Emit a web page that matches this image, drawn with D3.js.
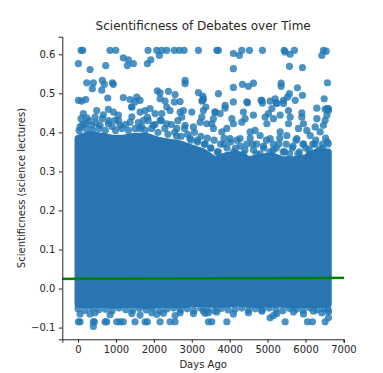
<!DOCTYPE html>
<html>
<head>
<meta charset="utf-8">
<script src="https://cdn.jsdelivr.net/npm/d3@7"></script>
<style>
  body { margin: 0; background: #fff; }
  text { font-family: "DejaVu Sans", sans-serif; fill: #262626; }
</style>
</head>
<body>
<div id="chart"></div>
<script>
// tick labels
const xTicks = [0, 1000, 2000, 3000, 4000, 5000, 6000, 7000];
const yTicks = [-0.1, 0.0, 0.1, 0.2, 0.3, 0.4, 0.5, 0.6];

// the solid mass of overlapping points, read as an envelope (point centres)
const bandDays = [0, 300, 600, 900, 1200, 1500, 1800, 2100, 2400, 2700, 3000, 3300,
                  3600, 3900, 4200, 4500, 4800, 5100, 5400, 5700, 6000, 6300, 6600];
const bandLow  = [-0.040, -0.042, -0.040, -0.043, -0.041, -0.040, -0.044, -0.041, -0.040, -0.042, -0.039, -0.038,
                  -0.041, -0.040, -0.037, -0.040, -0.041, -0.039, -0.040, -0.042, -0.040, -0.041, -0.040];
const bandHigh = [0.385, 0.395, 0.39, 0.385, 0.385, 0.39, 0.39, 0.38, 0.375, 0.37, 0.36, 0.35,
                  0.33, 0.34, 0.345, 0.33, 0.335, 0.34, 0.33, 0.33, 0.335, 0.35, 0.35];

// points sitting on the top edge of the mass
const edgeDays = [30, 120, 210, 290, 380, 470, 550, 640, 720, 810, 900, 990, 1070, 1160, 1250, 1330, 1420, 1510, 1590, 1680,
                  1770, 1850, 1940, 2030, 2110, 2200, 2290, 2370, 2460, 2550, 2630, 2720, 2810, 2890, 2980, 3070, 3150, 3240, 3330, 3410,
                  3500, 3590, 3670, 3760, 3850, 3930, 4020, 4110, 4190, 4280, 4370, 4450, 4540, 4630, 4710, 4800, 4890, 4970, 5060, 5150,
                  5230, 5320, 5410, 5490, 5580, 5670, 5750, 5840, 5930, 6010, 6100, 6190, 6270, 6360, 6450, 6530, 6600];
const edgeScores = [0.405, 0.42, 0.41, 0.43, 0.405, 0.425, 0.41, 0.435, 0.405, 0.43, 0.415, 0.405, 0.43, 0.41, 0.42, 0.405, 0.44, 0.41, 0.425, 0.415,
                    0.405, 0.43, 0.41, 0.42, 0.4, 0.43, 0.41, 0.395, 0.42, 0.4, 0.43, 0.39, 0.41, 0.395, 0.38, 0.4, 0.375, 0.39, 0.37, 0.385,
                    0.36, 0.38, 0.35, 0.37, 0.385, 0.36, 0.375, 0.35, 0.38, 0.365, 0.345, 0.37, 0.385, 0.355, 0.37, 0.345, 0.365, 0.38, 0.35, 0.37,
                    0.36, 0.385, 0.35, 0.37, 0.345, 0.365, 0.38, 0.35, 0.37, 0.36, 0.345, 0.37, 0.38, 0.355, 0.37, 0.385, 0.37];

// points sitting on the bottom edge of the mass
const floorDays = [0, 180, 360, 540, 720, 900, 1080, 1260, 1440, 1620, 1800, 1980, 2160, 2340, 2520, 2700, 2880, 3060, 3240,
                   3420, 3600, 3780, 3960, 4140, 4320, 4500, 4680, 4860, 5040, 5220, 5400, 5580, 5760, 5940, 6120, 6300, 6480, 6600];
const floorScores = [-0.052, -0.056, -0.05, -0.055, -0.053, -0.057, -0.05, -0.054, -0.056, -0.051, -0.055, -0.05, -0.057, -0.053, -0.05, -0.055, -0.052, -0.056, -0.05,
                     -0.054, -0.057, -0.051, -0.055, -0.053, -0.05, -0.056, -0.052, -0.055, -0.05, -0.054, -0.057, -0.051, -0.053, -0.056, -0.05, -0.055, -0.052, -0.054];

// single points that stand out of the mass
const outlierDays = [
  80, 124, 844, 995, 1847, 2077, 2209, 2341, 2541, 2673, 2797, 3175, 3660, 3702, 4098, 4257, 4320, 4521, 4864, 5436, 5463, 5595, 5708, 6473, 6545, 6431,
  10, 317, 730, 1195, 1327, 1459, 1300, 1829, 1919, 2146,
  230, 404, 377, 641, 625, 694, 905, 932, 2824, 2824,
  10, 95, 203, 784, 1195, 1372, 1549, 1636, 1504, 1417, 2093, 2164, 2383, 2164, 2296, 2560, 2692, 2541, 3175, 3291, 3291, 3370,
  4098, 5576, 5919, 4336, 4494, 4626, 4098, 5357, 5357, 5576, 5787, 5919, 6579, 3702, 3307, 3264, 4098, 4468, 4829, 4864, 5067, 5225, 5418, 6492, 6518, 6605, 3615, 3879, 5903,
  140, 79, 230, 493, 449, 668, 800, 932, 1064, 976, 1417, 1636, 1768, 1900, 2032, 1829, 1723, 2209, 2341, 2428, 2164, 2692, 2779, 3001, 2737, 3307, 3264,
  53, 185, 362, 581, 800, 1108, 1372, 1636, 1987, 2341, 2605, 2824, 3043, 3220,
  3615, 3747, 3879, 3571, 3528, 4056, 4098, 3924, 4362, 4407, 4320, 4626, 4671, 4935, 5022, 5112, 5154, 4980, 5331, 5550, 5595, 5550, 5903, 5946, 5814, 6035, 6299, 6254, 6473, 6518, 6605, 6563,
  4452, 4848, 5199, 5244, 5418, 5524, 5727, 6299, 6563,
  3396, 3571, 3792, 4011, 4275, 4539, 4803, 5067, 5331, 5508, 5772, 6123, 6386,
  3500, 3700, 3850, 4150, 4400, 4600, 4700, 4900, 5150, 5300, 5450, 5650, 5800, 5950, 6100, 6250, 6450, 6580, 3350, 3150, 2950, 2600,
  10, 53, 404, 430, 712, 757, 1021, 1108, 1195, 1504, 1768, 1829, 2164, 2428, 2560, 404,
  53, 317, 449, 844, 1417, 1636, 1945, 2077, 2251, 2560, 2692, 3043, 3352, 3439,
  3528, 3924, 5463, 6051, 6183, 6518, 5067, 5154, 6605,
  3307, 3439, 3660, 4098, 4494, 4848, 5244, 5682, 5946, 6209, 6431, 6605
];
const outlierScores = [
  0.61, 0.61, 0.61, 0.61, 0.61, 0.61, 0.61, 0.61, 0.61, 0.61, 0.61, 0.61, 0.61, 0.61, 0.602, 0.597, 0.61, 0.61, 0.61, 0.61, 0.606, 0.60, 0.61, 0.61, 0.608, 0.597,
  0.576, 0.561, 0.571, 0.591, 0.586, 0.576, 0.571, 0.576, 0.586, 0.597,
  0.527, 0.527, 0.512, 0.533, 0.508, 0.523, 0.527, 0.523, 0.533, 0.525,
  0.482, 0.480, 0.484, 0.488, 0.489, 0.484, 0.49, 0.482, 0.478, 0.465, 0.506, 0.501, 0.505, 0.486, 0.48, 0.497, 0.479, 0.478, 0.502, 0.493, 0.482, 0.465,
  0.563, 0.569, 0.566, 0.523, 0.518, 0.526, 0.515, 0.526, 0.518, 0.499, 0.514, 0.495, 0.527, 0.499, 0.486, 0.48, 0.478, 0.476, 0.482, 0.475, 0.48, 0.476, 0.482, 0.486, 0.459, 0.456, 0.452, 0.469, 0.45,
  0.448, 0.435, 0.437, 0.456, 0.439, 0.445, 0.459, 0.452, 0.444, 0.431, 0.465, 0.452, 0.456, 0.461, 0.448, 0.439, 0.431, 0.448, 0.465, 0.456, 0.431, 0.452, 0.456, 0.452, 0.439, 0.456, 0.439,
  0.414, 0.422, 0.418, 0.418, 0.422, 0.418, 0.426, 0.41, 0.418, 0.422, 0.41, 0.418, 0.414, 0.426,
  0.452, 0.448, 0.462, 0.435, 0.422, 0.435, 0.422, 0.41, 0.452, 0.435, 0.426, 0.444, 0.405, 0.439, 0.448, 0.461, 0.435, 0.422, 0.444, 0.456, 0.439, 0.422, 0.439, 0.422, 0.41, 0.405, 0.435, 0.414, 0.418, 0.431, 0.461, 0.444,
  0.478, 0.482, 0.486, 0.474, 0.474, 0.49, 0.482, 0.462, 0.461,
  0.422, 0.41, 0.401, 0.384, 0.384, 0.401, 0.392, 0.384, 0.401, 0.392, 0.384, 0.392, 0.401,
  0.36, 0.35, 0.37, 0.36, 0.355, 0.37, 0.345, 0.36, 0.355, 0.37, 0.35, 0.36, 0.345, 0.37, 0.355, 0.37, 0.36, 0.375, 0.37, 0.38, 0.385, 0.39,
  -0.085, -0.085, -0.085, -0.085, -0.085, -0.085, -0.085, -0.085, -0.085, -0.085, -0.085, -0.085, -0.085, -0.085, -0.085, -0.097,
  -0.065, -0.065, -0.062, -0.067, -0.064, -0.068, -0.062, -0.066, -0.063, -0.069, -0.062, -0.064, -0.063, -0.085,
  -0.085, -0.085, -0.085, -0.085, -0.085, -0.085, -0.075, -0.069, -0.075,
  -0.058, -0.062, -0.06, -0.065, -0.062, -0.058, -0.064, -0.06, -0.065, -0.058, -0.062, -0.06
];

// regression fit and its confidence band
const fitDays = [-415, 7015];
const fitScores = [0.0249, 0.0274];
const fitLow = [0.0209, 0.0234];
const fitHigh = [0.0289, 0.0314];

const W = 383, H = 373;
const margin = {left: 62.3, right: 39, top: 36.7, bottom: 33.7};
const width = W - margin.left - margin.right;
const height = H - margin.top - margin.bottom;

const x = d3.scaleLinear().domain([-415, 7015]).range([0, width]);
const y = d3.scaleLinear().domain([-0.13, 0.645]).range([height, 0]);

const svg = d3.select('#chart').append('svg')
    .attr('width', W)
    .attr('height', H);

const g = svg.append('g')
    .attr('transform', 'translate(' + margin.left + ',' + margin.top + ')');

const blue = '#1f77b4';

// dense mass of points
const band = bandDays.map((d, i) => ({day: d, lo: bandLow[i], hi: bandHigh[i]}));
g.append('path')
    .datum(band)
    .attr('d', d3.area().x(d => x(d.day)).y0(d => y(d.lo)).y1(d => y(d.hi)))
    .attr('fill', '#2a76b3')
    .attr('stroke', '#2a76b3')
    .attr('stroke-width', 7)
    .attr('stroke-linejoin', 'round');

// loose points
const pts = [];
edgeDays.forEach((d, i) => pts.push({day: d, score: edgeScores[i]}));
floorDays.forEach((d, i) => pts.push({day: d, score: floorScores[i]}));
outlierDays.forEach((d, i) => pts.push({day: d, score: outlierScores[i]}));

g.selectAll('.dot')
    .data(pts)
  .enter().append('circle')
    .attr('class', 'dot')
    .attr('cx', d => x(d.day))
    .attr('cy', d => y(d.score))
    .attr('r', 3.6)
    .attr('fill', blue)
    .attr('fill-opacity', 0.8);

// fit line + ci
const fit = fitDays.map((d, i) => ({day: d, v: fitScores[i], lo: fitLow[i], hi: fitHigh[i]}));
g.append('path')
    .datum(fit)
    .attr('d', d3.area().x(d => x(d.day)).y0(d => y(d.lo)).y1(d => y(d.hi)))
    .attr('fill', 'green')
    .attr('fill-opacity', 0.25);
g.append('path')
    .datum(fit)
    .attr('d', d3.line().x(d => x(d.day)).y(d => y(d.v)))
    .attr('fill', 'none')
    .attr('stroke', 'green')
    .attr('stroke-width', 2.2);

// axes
const xAxis = g.append('g')
    .attr('transform', 'translate(0,' + height + ')')
    .call(d3.axisBottom(x).tickValues(xTicks).tickFormat(d3.format('d')).tickSizeOuter(0).tickSize(3.5).tickPadding(3.5));
const yAxis = g.append('g')
    .call(d3.axisLeft(y).tickValues(yTicks).tickFormat(d => d3.format('.1f')(d).replace('-', '\u2212')).tickSizeOuter(0).tickSize(3.5).tickPadding(3.5));

[xAxis, yAxis].forEach(a => {
  a.selectAll('path, line').attr('stroke', '#262626').attr('stroke-width', 1);
  a.selectAll('text').attr('font-size', '10px').attr('font-family', '"DejaVu Sans", sans-serif').attr('fill', '#262626');
});

svg.append('text')
    .attr('x', margin.left + width / 2)
    .attr('y', 30)
    .attr('text-anchor', 'middle')
    .attr('font-size', '12px')
    .text('Scientificness of Debates over Time');

svg.append('text')
    .attr('x', margin.left + width / 2)
    .attr('y', 368)
    .attr('text-anchor', 'middle')
    .attr('font-size', '10px')
    .text('Days Ago');

svg.append('text')
    .attr('transform', 'translate(25,' + (margin.top + height / 2) + ') rotate(-90)')
    .attr('text-anchor', 'middle')
    .attr('font-size', '10px')
    .text('Scientificness (science lectures)');
</script>
</body>
</html>
